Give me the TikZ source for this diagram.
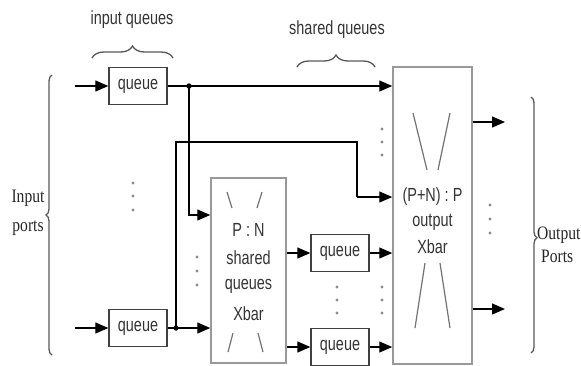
\documentclass[tikz,border=0pt]{standalone}
\usepackage{fontspec}
\newfontfamily\nsans[FakeStretch=0.76]{Liberation Sans}
\newfontfamily\nserif[FakeStretch=0.82]{Liberation Serif}
\usetikzlibrary{arrows.meta,decorations.pathreplacing}
\begin{document}
\begin{tikzpicture}[x=1pt,y=-1pt,
  conn/.style={draw=black, line width=1.3pt},
  arr/.style={conn, -{Triangle[length=13pt,width=11pt]}},
  qbox/.style={draw=black!75, line width=1.4pt, minimum width=58pt, minimum height=37pt, inner sep=0pt, font=\nsans\fontsize{19}{21}\selectfont, text=black!80},
  bigbox/.style={draw=black!40, line width=1.5pt, inner sep=0pt},
  lbl/.style={font=\nsans\fontsize{19}{21}\selectfont, text=black!80, inner sep=0pt},
  plbl/.style={font=\nserif\fontsize{19}{21}\selectfont, text=black!85, inner sep=0pt},
  slashline/.style={draw=black!55, line width=1.2pt},
  dotc/.style={fill=black!45},
  brc/.style={decorate, draw=black!65, line width=1.3pt},
  jdot/.style={fill=black}
]
\useasboundingbox (0,0) rectangle (581,365);

% queues
\node[qbox] (q1) at (138,86) {queue};
\node[qbox] (q2) at (138,328) {queue};
\node[qbox] (q3) at (340,253) {queue};
\node[qbox] (q4) at (340,347) {queue};

% crossbars
\node[bigbox, minimum width=75pt, minimum height=185pt] (pn) at (248.5,270.5) {};
\node[bigbox, minimum width=79pt, minimum height=297pt] (xb) at (432.5,215.5) {};

% texts in crossbars
\node[lbl] (pn1) at (248.5,230) {P : N};
\node[lbl] (pn2) at (248.5,258) {shared};
\node[lbl] (pn3) at (248.5,286) {queues};
\node[lbl] (pn4) at (248.5,314) {Xbar};
\node[lbl] (xb1) at (432.5,197) {(P+N) : P};
\node[lbl] (xb2) at (432.5,222) {output};
\node[lbl] (xb3) at (432.5,247) {Xbar};

% slashes
\draw[slashline] (227,192) -- (232,208);
\draw[slashline] (262,192) -- (257,208);
\draw[slashline] (233,333) -- (228,352);
\draw[slashline] (258,333) -- (263,352);
\draw[slashline] (413,113) -- (427,170);
\draw[slashline] (450,113) -- (438,170);
\draw[slashline] (425,263) -- (415,328);
\draw[slashline] (440,263) -- (450,328);

% coordinates
\coordinate (i1) at (75,86);
\coordinate (i2) at (75,328);
\coordinate (j1) at (189,86);
\coordinate (j2) at (176,328);
\coordinate (r2) at (0,215);
\coordinate (r3a) at (176,142);
\coordinate (r3b) at (357,142);
\coordinate (r4) at (357,197);
\coordinate (r5) at (0,253);
\coordinate (r7) at (0,347);
\coordinate (o1s) at (0,122);
\coordinate (o2s) at (0,309);
\coordinate (o1) at (505,122);
\coordinate (o2) at (505,309);

% connectors
\draw[arr] (i1) -- (q1.west);
\draw[arr] (i2) -- (q2.west);
\draw[conn] (q1.east) -- (j1);
\draw[arr] (j1) -- (j1 -| xb.west);
\draw[arr] (j1) |- (pn.west |- r2);
\draw[conn] (q2.east) -- (j2);
\draw[arr] (j2) -- (j2 -| pn.west);
\draw[conn] (j2) -- (r3a) -- (r3b) -- (r4);
\draw[arr] (r4) -- (r4 -| xb.west);
\draw[arr] (pn.east |- r5) -- (q3.west);
\draw[arr] (pn.east |- r7) -- (q4.west);
\draw[arr] (q3.east) -- (q3.east -| xb.west);
\draw[arr] (q4.east) -- (q4.east -| xb.west);
\draw[arr] (xb.east |- o1s) -- (o1);
\draw[arr] (xb.east |- o2s) -- (o2);
\fill[jdot] (j1) circle (2.7pt);
\fill[jdot] (j2) circle (2.7pt);

% vertical ellipses
\foreach \x/\y in {133/183,133/196,133/210, 197/257,197/271,197/285, 337/287,337/300,337/313, 382/287,382/300,382/313, 382/129,382/142,382/155, 490/205,490/219,490/233}
  \fill[dotc] (\x,\y) circle (1.6pt);

% braces and labels
\node[lbl] (iq) at (132,20) {input queues};
\node[lbl] (sq) at (337,30) {shared queues};
\draw[brc, decoration={brace, amplitude=12pt}] (92,58) -- (173,58);
\draw[brc, decoration={brace, amplitude=12pt}] (297,67) -- (375,67);
\draw[brc, decoration={brace, amplitude=6pt}] (52,355) -- (52,75);
\draw[brc, decoration={brace, amplitude=6pt, aspect=0.55}] (531,97) -- (531,353);

\node[plbl] (ip1) at (28,198) {Input};
\node[plbl] (ip2) at (28,228) {ports};
\node[plbl, anchor=west] (op1) at (537,235) {Output};
\node[plbl, anchor=west] (op2) at (541,256) {Ports};
\end{tikzpicture}
\end{document}
